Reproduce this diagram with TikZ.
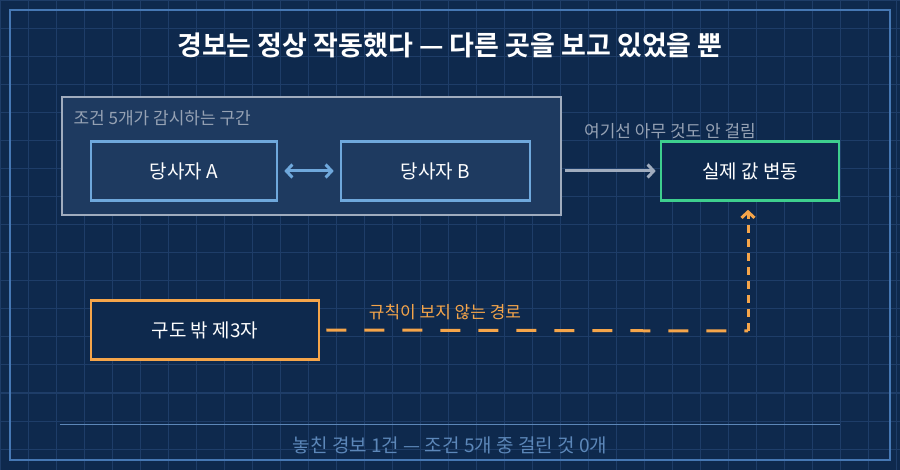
\documentclass[tikz,border=0pt]{standalone}
\usepackage{fontspec}
\setmainfont{Noto Sans CJK KR}
\newfontfamily\boldkr{Noto Sans CJK KR Bold}
\usetikzlibrary{arrows.meta}
\definecolor{bgColor}{RGB}{14,41,77}
\definecolor{gridColor}{RGB}{30,61,104}
\definecolor{frameColor}{RGB}{70,120,180}
\definecolor{zoneFill}{RGB}{30,58,96}
\definecolor{zoneLine}{RGB}{160,172,190}
\definecolor{partyLine}{RGB}{111,168,220}
\definecolor{realLine}{RGB}{62,207,142}
\definecolor{thirdLine}{RGB}{245,165,74}
\definecolor{noteColor}{RGB}{150,162,180}
\definecolor{footColor}{RGB}{92,135,185}
\tikzset{
  box/.style = {draw, line width=2.6pt, minimum height=59pt, text=white, font=\fontsize{19}{22}\selectfont},
  note/.style = {text=noteColor, font=\fontsize{17}{20}\selectfont},
  flow/.style = {line width=3pt, -{Straight Barb[length=6pt,width=13pt]}},
}
\begin{document}
\begin{tikzpicture}[x=1pt, y=-1pt]
  \fill [bgColor] (0,0) rectangle (900,470);
  \useasboundingbox (0,0) rectangle (900,470);
  \foreach \gx in {0,28,...,900} {\draw [gridColor, line width=1pt] (\gx,0) -- (\gx,470);}
  \foreach \gy in {1,29,...,470} {\draw [gridColor, line width=1pt] (0,\gy) -- (900,\gy);}
  \draw [frameColor, line width=1.2pt] (10,10) rectangle (890,460);

  \node (title) at (450,45) {\boldkr\fontsize{27}{30}\selectfont\color{white}경보는 정상 작동했다 — 다른 곳을 보고 있었을 뿐};

  % watched zone
  \filldraw [fill=zoneFill, draw=zoneLine, line width=2pt] (62,97) rectangle (561,215);
  \node [note, anchor=west] (zoneLabel) at (70,118) {조건 5개가 감시하는 구간};
  \node [box, draw=partyLine, fill=zoneFill, minimum width=186pt] (partyA) at (184,171) {당사자 A};
  \node [box, draw=partyLine, fill=zoneFill, minimum width=189pt] (partyB) at (435.5,171) {당사자 B};
  \draw [flow, partyLine, {Straight Barb[length=6pt,width=13pt]}-{Straight Barb[length=6pt,width=13pt]}, shorten <=6pt, shorten >=6pt] (partyA) -- (partyB);

  % real change
  \node [box, draw=realLine, fill=bgColor, minimum width=178pt] (realMove) at (750,171) {실제 값 변동};
  \coordinate (zoneEdge) at (565,171);
  \draw [flow, zoneLine, shorten >=4pt] (zoneEdge) -- (realMove);
  \node [note] (quietLabel) at (670,131) {여기선 아무 것도 안 걸림};

  % outside third party
  \node [box, draw=thirdLine, fill=bgColor, minimum width=228pt] (third) at (205,330) {구도 밖 제3자};
  \coordinate (bend) at (748,331);
  \draw [thirdLine, line width=3pt, dash pattern=on 20pt off 18pt] (third.east) ++(6pt,0) -- (bend);
  \draw [flow, thirdLine, dash pattern=on 8pt off 6pt, shorten >=8pt] (bend) -- (realMove.south -| bend);
  \node [text=thirdLine, font=\fontsize{17}{20}\selectfont] (pathLabel) at (445,312) {규칙이 보지 않는 경로};

  % footer
  \draw [footColor, line width=1pt] (60,424) -- (840,424);
  \node [text=footColor, font=\fontsize{19}{22}\selectfont] (footer) at (450,445) {놓친 경보 1건 — 조건 5개 중 걸린 것 0개};
\end{tikzpicture}
\end{document}
